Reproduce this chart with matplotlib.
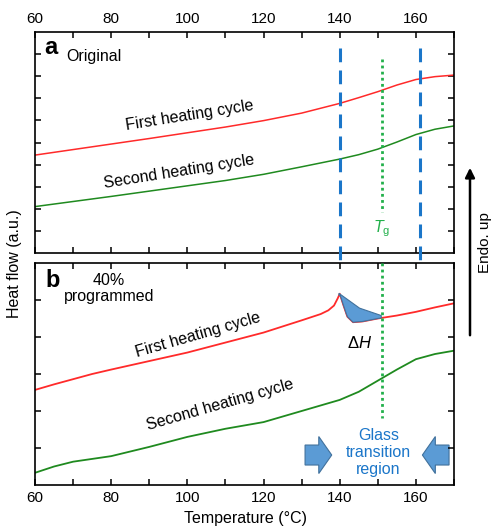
import numpy as np
import matplotlib
matplotlib.use("Agg")
import matplotlib.pyplot as plt
from matplotlib.patches import FancyArrow, Polygon, FancyArrowPatch

plt.rcParams['font.family'] = ['Liberation Sans', 'DejaVu Sans']
plt.rcParams['mathtext.fontset'] = 'custom'
plt.rcParams['mathtext.rm'] = 'Liberation Sans'
plt.rcParams['mathtext.it'] = 'Liberation Sans:italic'

# ---- data (panel a: original) ----
temp_a = [60, 70, 80, 90, 100, 110, 120, 130, 140, 145, 150, 155, 160, 165, 170]
first_a = [4.43, 4.68, 4.93, 5.18, 5.44, 5.70, 5.99, 6.33, 6.77, 7.03, 7.30, 7.60, 7.85, 7.98, 8.05]
second_a = [2.10, 2.33, 2.56, 2.80, 3.04, 3.28, 3.56, 3.90, 4.25, 4.45, 4.70, 5.02, 5.36, 5.60, 5.75]

# ---- data (panel b: 40% programmed) ----
temp_b1 = [60, 65, 70, 75, 80, 90, 100, 110, 120, 130, 135, 137, 138.5, 139.5, 140,
           141, 142, 143.5, 146, 150, 155, 160, 165, 170]
first_b = [2.57, 2.72, 2.86, 3.00, 3.12, 3.35, 3.58, 3.85, 4.12, 4.45, 4.62, 4.72, 4.85, 5.05, 5.17,
           4.85, 4.55, 4.40, 4.42, 4.50, 4.58, 4.68, 4.80, 4.91]
temp_b2 = [60, 65, 70, 80, 90, 100, 110, 120, 130, 140, 145, 150, 155, 160, 165, 170]
second_b = [0.33, 0.50, 0.63, 0.78, 1.03, 1.30, 1.52, 1.70, 2.00, 2.30, 2.52, 2.82, 3.12, 3.40, 3.54, 3.63]

# enthalpy-relaxation area upper edge
dh_upper_t = [139.8, 145.2, 150.9]
dh_upper_v = [5.18, 4.78, 4.58]

region_bounds = [140, 161]
tg = 151
xticks = [60, 70, 80, 90, 100, 110, 120, 130, 140, 150, 160, 170]
xticklabels = ['60', '', '80', '', '100', '', '120', '', '140', '', '160', '']

RED = '#ff2a2a'
GREEN = '#1f8a1f'
BLUE = '#1b76c9'
DOTGREEN = '#22b04b'
FILL = '#5b9bd5'
FILLEDGE = '#41719c'

fig = plt.figure(figsize=(4.92, 5.28), dpi=100)
W, H = 492, 528
ax_a = fig.add_axes([35 / W, 1 - 253 / H, 419 / W, 221 / H])
ax_b = fig.add_axes([35 / W, 1 - 485 / H, 419 / W, 222 / H])

for ax, ylim, yt in [(ax_a, (0, 10), range(1, 10)), (ax_b, (0, 6), range(1, 6))]:
    ax.set_xlim(60, 170)
    ax.set_ylim(*ylim)
    ax.set_xticks(xticks)
    ax.set_yticks(list(yt))
    ax.set_yticklabels([])
    ax.tick_params(direction='in', length=4, width=1.1, top=True, right=True,
                   labelsize=11, pad=4)
    for s in ax.spines.values():
        s.set_linewidth(1.2)

ax_a.tick_params(labeltop=True, labelbottom=False)
ax_a.set_xticklabels(xticklabels)
ax_b.set_xticklabels(xticklabels)

# panel a curves
ax_a.plot(temp_a, first_a, color=RED, lw=1.1)
ax_a.plot(temp_a, second_a, color=GREEN, lw=1.1)

# panel b curves
ax_b.plot(temp_b1, first_b, color=RED, lw=1.3)
ax_b.plot(temp_b2, second_b, color=GREEN, lw=1.3)

# dashed region boundaries spanning both panels (drawn in panel a coords)
for xb in region_bounds:
    ax_a.plot([xb, xb], [9.28, -9.73], color=BLUE, lw=2.2, dashes=(4.5, 2.7),
              clip_on=False, zorder=5)

# Tg dotted lines
ax_a.plot([tg, tg], [8.8, 1.85], color=DOTGREEN, lw=2.0, ls=(0, (1, 1.2)), zorder=4)
ax_b.plot([tg, tg], [6.0, 1.8], color=DOTGREEN, lw=2.0, ls=(0, (1, 1.2)), zorder=4)
ax_a.text(tg, 1.1, r'$T_{\mathrm{g}}$', color=DOTGREEN, fontsize=11.5, ha='center', va='center')

# Delta H area
seg_t = np.linspace(dh_upper_t[0], dh_upper_t[-1], 40)
seg_v = np.interp(seg_t, temp_b1, first_b)
poly = list(zip(dh_upper_t, dh_upper_v)) + list(zip(seg_t[::-1], seg_v[::-1]))
ax_b.add_patch(Polygon(poly, closed=True, facecolor=FILL, edgecolor=FILLEDGE, lw=0.8, zorder=3))
ax_b.text(145.3, 3.84, r'$\Delta H$', fontsize=12, ha='center', va='center')

# block arrows
ax_b.add_patch(FancyArrow(130.9, 0.81, 7.0, 0, width=0.54, head_width=1.0, head_length=3.4,
                          length_includes_head=True, facecolor=FILL, edgecolor=FILLEDGE, lw=0.8))
ax_b.add_patch(FancyArrow(168.7, 0.81, -7.0, 0, width=0.54, head_width=1.0, head_length=3.4,
                          length_includes_head=True, facecolor=FILL, edgecolor=FILLEDGE, lw=0.8))
ax_b.text(150.2, 0.88, 'Glass\ntransition\nregion', color=BLUE, fontsize=11.5, ha='center',
          va='center', linespacing=1.15)

# labels
ax_a.text(0.022, 0.93, 'a', transform=ax_a.transAxes, fontsize=17, fontweight='bold',
          ha='left', va='center')
ax_a.text(0.075, 0.89, 'Original', transform=ax_a.transAxes, fontsize=11.5, ha='left', va='center')
ax_a.text(100.6, 6.24, 'First heating cycle', fontsize=11.5, rotation=9, ha='center', va='center')
ax_a.text(97.7, 3.66, 'Second heating cycle', fontsize=11.5, rotation=9, ha='center', va='center')

ax_b.text(0.025, 0.92, 'b', transform=ax_b.transAxes, fontsize=17, fontweight='bold',
          ha='left', va='center')
ax_b.text(79.4, 5.3, '40%\nprogrammed', fontsize=11.5, ha='center', va='center', linespacing=1.1)
ax_b.text(102.7, 4.05, 'First heating cycle', fontsize=11.5, rotation=16, ha='center', va='center')
ax_b.text(108.7, 2.16, 'Second heating cycle', fontsize=11.5, rotation=16, ha='center', va='center')

fig.text(15 / W, 1 - 264 / H, 'Heat flow (a.u.)', rotation=90, fontsize=11.5,
         ha='center', va='center')
fig.text(245 / W, 1 - 518 / H, 'Temperature (°C)', fontsize=11.5, ha='center', va='center')

fig.add_artist(FancyArrowPatch((470 / W, 1 - 338 / H), (470 / W, 1 - 165 / H),
               transform=fig.transFigure, arrowstyle='-|>', mutation_scale=14, lw=1.8,
               color='black'))
fig.text(485 / W, 1 - 243 / H, 'Endo. up', rotation=90, fontsize=11, ha='center', va='center')

fig.savefig('out.png', dpi=100)
